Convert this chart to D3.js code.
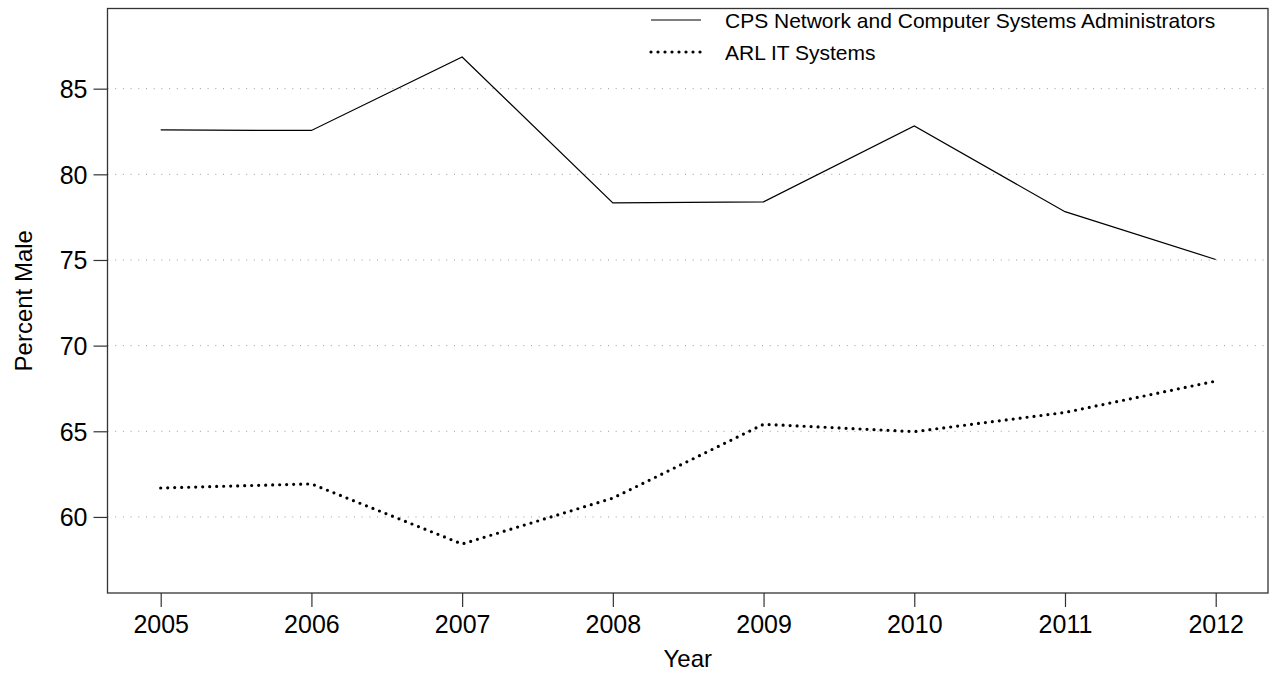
<!DOCTYPE html>
<html>
<head>
<meta charset="utf-8">
<script src="https://cdn.jsdelivr.net/npm/d3@7"></script>
<style>
  html, body { margin: 0; padding: 0; background: #fff; }
  svg { display: block; font-family: "Liberation Sans", Arial, Helvetica, sans-serif; }
</style>
</head>
<body>
<svg id="chart" width="1269" height="673"></svg>
<script>
// Share of men by year, two occupational sources
const years = [2005, 2006, 2007, 2008, 2009, 2010, 2011, 2012];
const cpsValues = [82.59, 82.56, 86.85, 78.33, 78.39, 82.82, 77.82, 75.03];
const arlValues = [61.69, 61.93, 58.42, 61.10, 65.41, 64.98, 66.10, 67.93];
const yTicks = [60, 65, 70, 75, 80, 85];
const seriesNames = ["CPS Network and Computer Systems Administrators", "ARL IT Systems"];

const svg = d3.select("#chart");
const plotLeft = 107.5, plotRight = 1268, plotTop = 8.5, plotBottom = 593;

const x = d3.scaleLinear().domain([2004.647, 2012.347]).range([plotLeft, plotRight]);
const y = d3.scaleLinear().domain([55.56, 89.68]).range([plotBottom, plotTop]);

// horizontal dotted reference lines
svg.append("g").selectAll("line").data(yTicks).join("line")
  .attr("x1", plotLeft).attr("x2", plotRight)
  .attr("y1", d => y(d)).attr("y2", d => y(d))
  .attr("stroke", "#9a9a9a").attr("stroke-width", 1)
  .attr("stroke-dasharray", "1,6.7");

// axes
const xAxis = d3.axisBottom(x).tickValues(years).tickFormat(d3.format("d")).tickSize(14).tickPadding(8);
const yAxis = d3.axisLeft(y).tickValues(yTicks).tickSize(14).tickPadding(6);

const gx = svg.append("g").attr("transform", `translate(0,${plotBottom})`).call(xAxis);
const gy = svg.append("g").attr("transform", `translate(${plotLeft},0)`).call(yAxis);
[gx, gy].forEach(g => {
  g.select(".domain").remove();
  g.selectAll(".tick line").attr("stroke", "#333").attr("stroke-width", 1.2);
  g.selectAll(".tick text").attr("fill", "#000").style("font-size", "25px")
    .style("font-family", '"Liberation Sans", Arial, Helvetica, sans-serif');
});
gy.selectAll(".tick text").attr("dy", "0.35em");

// plot frame
svg.append("rect").attr("x", plotLeft).attr("y", plotTop)
  .attr("width", plotRight - plotLeft).attr("height", plotBottom - plotTop)
  .attr("fill", "none").attr("stroke", "#333").attr("stroke-width", 1.3);

// axis titles
svg.append("text").attr("x", (plotLeft + plotRight) / 2).attr("y", 667)
  .attr("text-anchor", "middle").style("font-size", "24px").text("Year");
svg.append("text").attr("transform", `translate(32,${(plotTop + plotBottom) / 2}) rotate(-90)`)
  .attr("text-anchor", "middle").style("font-size", "24px").text("Percent Male");

// series lines
const line = d3.line().x((d, i) => x(years[i])).y(d => y(d));
svg.append("path").datum(cpsValues).attr("d", line)
  .attr("fill", "none").attr("stroke", "#000").attr("stroke-width", 1.2);
svg.append("path").datum(arlValues).attr("d", line)
  .attr("fill", "none").attr("stroke", "#000").attr("stroke-width", 3.2)
  .attr("stroke-linecap", "round").attr("stroke-dasharray", "0,7");

// legend
const legend = svg.append("g");
const legendRows = [
  { name: seriesNames[0], dash: null, width: 1.2, cap: "butt", ty: 20 },
  { name: seriesNames[1], dash: "0,7", width: 3.2, cap: "round", ty: 52 }
];
legendRows.forEach(r => {
  legend.append("line").attr("x1", 651).attr("x2", 701)
    .attr("y1", r.ty).attr("y2", r.ty)
    .attr("stroke", "#000").attr("stroke-width", r.width)
    .attr("stroke-linecap", r.cap)
    .attr("stroke-dasharray", r.dash);
  legend.append("text").attr("x", 725).attr("y", r.ty).attr("dy", "0.36em")
    .style("font-size", "21px").text(r.name);
});
</script>
</body>
</html>
